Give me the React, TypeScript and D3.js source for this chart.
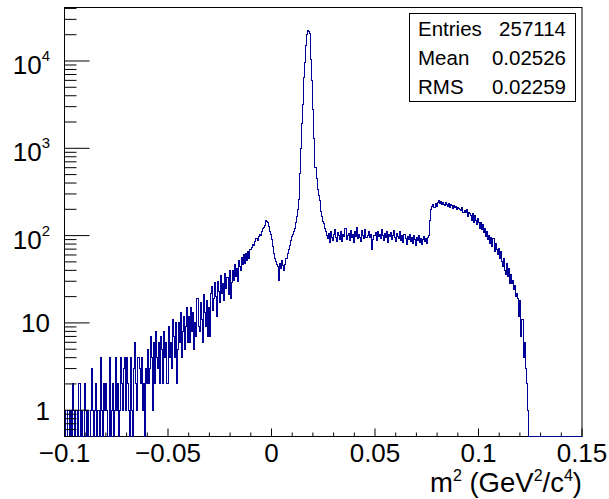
import { useEffect, useRef } from "react";
import * as d3 from "d3";

const xMin = -0.1;
const xMax = 0.15;
const yMin = 0.5;
const yMax = 41000;

// bin contents, 500 bins of 0.0005 from -0.1 to 0.15
const counts = [
  // -0.1000 .. -0.0605
  1, 0, 0, 1, 1, 0, 1, 0, 2, 1, 0, 1, 1, 0, 2, 0, 1, 0, 0, 2,
  1, 0, 1, 0, 0, 1, 3, 1, 0, 1, 2, 0, 1, 1, 0, 4, 1, 0, 2, 1,
  2, 1, 0, 4, 0, 1, 2, 0, 1, 4, 1, 2, 0, 1, 4, 2, 1, 3, 4, 1,
  4, 2, 1, 0, 4, 1, 0, 3, 6, 2, 1, 4, 3, 2, 4, 1, 2, 0, 3, 2,
  // -0.0600 .. -0.0005
  5, 2, 3, 7, 4, 1, 6, 2, 8, 4, 3, 6, 2, 7, 5, 2, 8, 4, 6, 2,
  9, 4, 6, 3, 11, 7, 4, 10, 2, 5, 10, 6, 13, 4, 8, 12, 5, 9, 15, 6,
  12, 6, 15, 8, 13, 5, 10, 7, 19, 9, 8, 17, 11, 6, 21, 13, 9, 18, 7, 15,
  7, 22, 26, 14, 19, 29, 20, 12, 30, 23, 17, 35, 22, 28, 18, 37, 25, 33, 21, 40,
  19, 29, 40, 31, 47, 34, 42, 30, 52, 44, 40, 56, 47, 60, 48, 63, 52, 66, 55, 70,
  70, 74, 80, 77, 85, 92, 88, 98, 104, 100, 112, 120, 125, 132, 150, 146, 142, 128, 112, 104,
  // 0.0000 .. 0.0115
  90, 75, 62, 55, 50, 47, 44, 31, 48, 42, 52, 46, 40, 47, 55, 63, 70, 78, 88, 98,
  104, 110, 120, 140,
  // 0.0120 .. 0.0265 (peak)
  165, 200, 260, 520, 1000, 1900, 3200, 6500, 9500, 15000,
  20000, 22500, 22000, 20500, 10500, 6000, 2800, 1300, 600, 450,
  340, 290, 250, 190, 165, 145, 138, 122, 112, 100,
  // 0.0270 .. 0.0755
  92, 105, 84, 110, 96, 88, 102, 118, 94, 86, 108, 99, 90, 112, 85, 104, 97, 120, 91, 100,
  106, 88, 115, 95, 102, 83, 110, 98, 125, 92, 104, 96, 86, 114, 100, 93, 118, 95, 95, 101,
  110, 94, 103, 70, 90, 99, 108, 87, 112, 97, 104, 92, 118, 100, 89, 106, 95, 110, 84, 102,
  97, 108, 90, 101, 113, 94, 86, 105, 98, 92, 110, 88, 99, 84, 104, 93, 80, 97, 90, 102,
  86, 95, 82, 99, 91, 78, 96, 88, 101, 84, 93, 80, 90, 97, 85, 92, 82, 96,
  // 0.0760 .. 0.1235
  100, 150, 200, 215, 225, 210, 232, 218, 242, 250, 235, 246, 225, 238, 230, 222, 240, 226, 218, 232,
  212, 228, 220, 205, 224, 210, 216, 198, 212, 205, 200, 192, 208, 186, 196, 182, 198, 165, 184, 178,
  172, 150, 178, 142, 168, 150, 135, 155, 140, 122, 140, 118, 135, 108, 120, 98, 112, 90, 100, 82,
  96, 76, 92, 66, 82, 70, 60, 72, 55, 66, 50, 44, 55, 40, 36, 48, 34, 42, 28, 36,
  28, 31, 24, 27, 20, 22, 19, 12, 18, 7, 11, 4, 6, 3, 2, 1,
  // 0.1240 .. 0.1495
  0, 0, 0, 0, 0, 0, 0, 0, 0, 0, 0, 0, 0, 0, 0, 0, 0, 0, 0, 0,
  0, 0, 0, 0, 0, 0, 0, 0, 0, 0, 0, 0, 0, 0, 0, 0, 0, 0, 0, 0,
  0, 0, 0, 0, 0, 0, 0, 0, 0, 0, 0, 0,
];

const xTickValues = [-0.1, -0.05, 0, 0.05, 0.1, 0.15];
const xTickLabels = ["\u22120.1", "\u22120.05", "0", "0.05", "0.1", "0.15"];
const yDecades = [1, 10, 100, 1000, 10000];
const yBase = ["1", "10", "10", "10", "10"];
const yExp = ["", "", "2", "3", "4"];
const statNames = ["Entries", "Mean", "RMS"];
const statValues = ["257114", "0.02526", "0.02259"];

export default function App() {
  const ref = useRef<SVGSVGElement>(null);

  useEffect(() => {
    const W = 609;
    const H = 499;
    const left = 64.5, right = 582, top = 7.5, bottom = 436.5;
    const font = "'Liberation Sans', Arial, Helvetica, sans-serif";
    const blue = "#000099";

    const svg = d3.select(ref.current);
    svg.selectAll("*").remove();
    svg.append("rect").attr("width", W).attr("height", H).attr("fill", "white");

    const x = d3.scaleLinear().domain([xMin, xMax]).range([left, right]);
    const y = d3.scaleLog().domain([yMin, yMax]).range([bottom, top]);
    const yc = (v: number) => (v < yMin ? bottom : Math.max(top, y(v)));

    // frame
    svg.append("rect")
      .attr("x", left).attr("y", top)
      .attr("width", right - left).attr("height", bottom - top)
      .attr("fill", "none").attr("stroke", "black");

    // histogram outline
    const bw = (xMax - xMin) / counts.length;
    const pts: [number, number][] = counts.map((c, i) => [xMin + i * bw, c]);
    pts.push([xMax, counts[counts.length - 1]]);
    const line = d3.line<[number, number]>()
      .x((d) => x(d[0]))
      .y((d) => yc(d[1]))
      .curve(d3.curveStepAfter);
    svg.append("path")
      .attr("d", line(pts))
      .attr("fill", "none")
      .attr("stroke", blue)
      .attr("stroke-width", 1)
      .attr("shape-rendering", "crispEdges");

    // x ticks
    const g = svg.append("g").attr("stroke", "black");
    d3.range(0, 26).forEach((k) => {
      const v = xMin + k * 0.01;
      const len = k % 5 === 0 ? 8 : 4;
      g.append("line")
        .attr("x1", x(v)).attr("x2", x(v))
        .attr("y1", bottom).attr("y2", bottom - len);
    });

    // y ticks (log)
    [-1, 0, 1, 2, 3, 4].forEach((p) => {
      d3.range(1, 10).forEach((m) => {
        const v = m * Math.pow(10, p);
        if (v < yMin || v > yMax) return;
        const len = m === 1 ? 25 : 12;
        g.append("line")
          .attr("x1", left).attr("x2", left + len)
          .attr("y1", y(v)).attr("y2", y(v));
      });
    });

    // x labels
    svg.append("g")
      .selectAll("text")
      .data(xTickValues)
      .join("text")
      .attr("x", (d) => x(d))
      .attr("y", 462)
      .attr("text-anchor", "middle")
      .attr("font-family", font)
      .attr("font-size", 26)
      .text((d, i) => xTickLabels[i]);

    // y labels
    yDecades.forEach((v, i) => {
      const t = svg.append("text")
        .attr("x", 50)
        .attr("y", y(v) + (yExp[i] ? 13 : 9.5))
        .attr("text-anchor", "end")
        .attr("font-family", font)
        .attr("font-size", 26)
        .text(yBase[i]);
      if (yExp[i]) {
        t.append("tspan").attr("dy", -13).attr("font-size", 15).text(yExp[i]);
      }
    });

    // x title
    const title = svg.append("text")
      .attr("x", 582)
      .attr("y", 492)
      .attr("text-anchor", "end")
      .attr("font-family", font)
      .attr("font-size", 27.5);
    const parts: [string, boolean][] = [["m", false], ["2", true], [" (GeV", false], ["2", true], ["/c", false], ["4", true], [")", false]];
    let up = false;
    parts.forEach(([s, sup]) => {
      const ts = title.append("tspan").text(s);
      if (sup && !up) { ts.attr("dy", -11).attr("font-size", 16); up = true; }
      else if (sup) { ts.attr("font-size", 16); }
      else if (up) { ts.attr("dy", 11); up = false; }
    });

    // stats box
    svg.append("rect")
      .attr("x", 409.5).attr("y", 13.5)
      .attr("width", 166).attr("height", 88)
      .attr("fill", "white").attr("stroke", "black");
    statNames.forEach((n, i) => {
      svg.append("text")
        .attr("x", 418).attr("y", 36 + i * 29)
        .attr("font-family", font).attr("font-size", 20.5)
        .text(n);
      svg.append("text")
        .attr("x", 566).attr("y", 36 + i * 29)
        .attr("text-anchor", "end")
        .attr("font-family", font).attr("font-size", 20.5)
        .text(statValues[i]);
    });
  }, []);

  return (
    <svg
      ref={ref}
      width={609}
      height={499}
      style={{ position: "absolute", left: 0, top: 0, display: "block" }}
    />
  );
}
